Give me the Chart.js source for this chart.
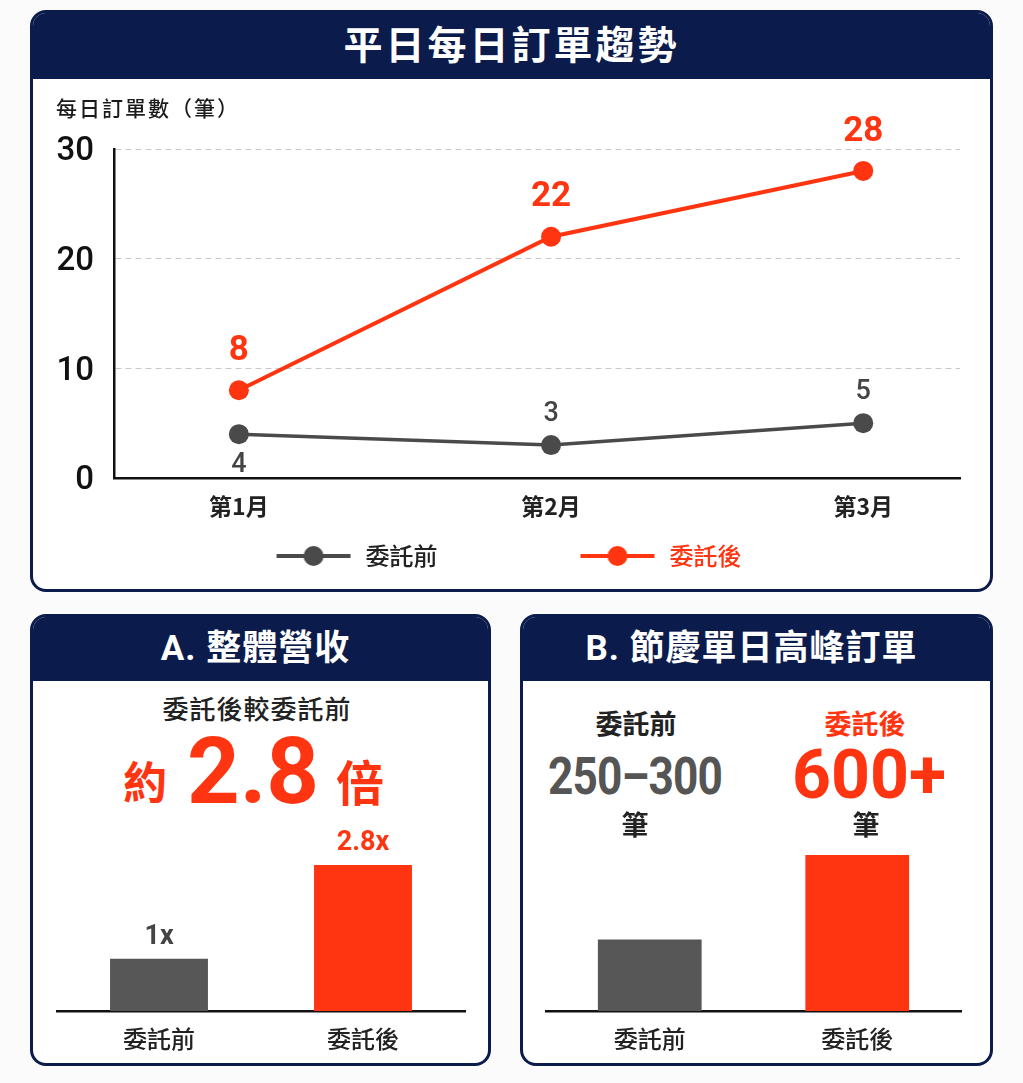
<!DOCTYPE html>
<html><head><meta charset="utf-8">
<script src="https://cdn.jsdelivr.net/npm/chart.js@4.4.1/dist/chart.umd.min.js"></script>
<style>
html,body{margin:0;padding:0;background:#fbfbfb;}
body{width:1023px;height:1083px;position:relative;overflow:hidden;font-family:Roboto,"Noto Sans CJK TC",sans-serif;}
.panel{position:absolute;box-sizing:border-box;border:3px solid #0b1b4b;border-radius:16px;background:#fff;overflow:hidden;}
.hdr{position:absolute;left:0;top:0;right:0;background:#0b1b4b;color:#fff;font-weight:700;text-align:center;font-family:Roboto,"Noto Sans CJK TC",sans-serif;}
.t{position:absolute;white-space:nowrap;transform:translate(-50%,-50%);line-height:1;z-index:2;}
canvas{position:absolute;z-index:1;}
</style></head>
<body>
<div class="panel" style="left:30px;top:10px;width:963px;height:582px;">
  <div class="hdr" style="height:66px;line-height:66px;font-size:39px;letter-spacing:3px;">平日每日訂單趨勢</div>
</div>
<div class="panel" style="left:30px;top:614px;width:461px;height:452px;">
  <div class="hdr" style="height:64px;line-height:64px;font-size:35px;letter-spacing:1px;padding-right:10px;">A. 整體營收</div>
</div>
<div class="panel" style="left:520px;top:614px;width:473px;height:452px;">
  <div class="hdr" style="height:64px;line-height:64px;font-size:35px;letter-spacing:1px;padding-right:10px;">B. 節慶單日高峰訂單</div>
</div>

<div style="position:absolute;left:56px;top:92px;font-size:21px;font-weight:500;letter-spacing:2px;color:#1a1a1a;z-index:2;font-family:'Noto Sans CJK TC',sans-serif;">每日訂單數（筆）</div>

<div class="t" style="left:257px;top:708px;font-size:26px;font-weight:500;letter-spacing:1px;color:#222;font-family:'Noto Sans CJK TC';">委託後較委託前</div>
<div class="t" style="left:145px;top:780px;font-size:44px;font-weight:700;color:#ff3410;font-family:'Noto Sans CJK TC';">約</div>
<div class="t" id="bigRatio" style="left:253px;top:772px;font-size:92px;font-weight:700;color:#ff3410;font-family:Roboto;"></div>
<div class="t" style="left:360px;top:780px;font-size:48px;font-weight:700;color:#ff3410;font-family:'Noto Sans CJK TC';">倍</div>

<div class="t" id="peakName0" style="left:636px;top:722px;font-size:27px;font-weight:700;color:#222;font-family:'Noto Sans CJK TC';"></div>
<div class="t" id="peakVal0" style="left:635px;top:777px;font-size:52px;font-weight:700;color:#555;letter-spacing:-1px;font-family:Roboto;transform:translate(-50%,-50%) scaleX(0.85);"></div>
<div class="t" style="left:635px;top:823px;font-size:27px;font-weight:700;color:#222;font-family:'Noto Sans CJK TC';">筆</div>
<div class="t" id="peakName1" style="left:865px;top:722px;font-size:27px;font-weight:700;color:#ff3410;font-family:'Noto Sans CJK TC';"></div>
<div class="t" id="peakVal1" style="left:869px;top:775px;font-size:68px;font-weight:700;color:#ff3410;font-family:Roboto;"></div>
<div class="t" style="left:866px;top:823px;font-size:27px;font-weight:700;color:#222;font-family:'Noto Sans CJK TC';">筆</div>

<canvas id="lineChart" style="left:33px;top:82px;width:957px;height:506px;" width="957" height="506"></canvas>
<canvas id="barA" style="left:33px;top:820px;width:455px;height:242px;" width="455" height="242"></canvas>
<canvas id="barB" style="left:523px;top:830px;width:467px;height:232px;" width="467" height="232"></canvas>

<script>
// ---- data ----
const months = ['第1月', '第2月', '第3月'];
const seriesNames = ['委託前', '委託後'];
const ordersBefore = [4, 3, 5];
const ordersAfter = [8, 22, 28];
const yAxisMin = 0, yAxisMax = 30, yAxisStep = 10;

const revenueCats = ['委託前', '委託後'];
const revenueValues = [1, 2.8];
const revenueLabels = ['1x', '2.8x'];
const revenueHeadline = '2.8';

const peakCats = ['委託前', '委託後'];
const peakValues = [275, 600];
const peakLabels = ['250–300', '600+'];

// ---- styles ----
const RED = '#ff3410';
const GRAY = '#4a4a4a';
const BAR_GRAY = '#575757';
const CJK = "Roboto, 'Noto Sans CJK TC', sans-serif";

document.getElementById('bigRatio').textContent = revenueHeadline;
document.getElementById('peakName0').textContent = peakCats[0];
document.getElementById('peakName1').textContent = peakCats[1];
document.getElementById('peakVal0').textContent = peakLabels[0];
document.getElementById('peakVal1').textContent = peakLabels[1];

Chart.defaults.animation = false;
Chart.defaults.font.family = CJK;

const valueLabels = {
  id: 'valueLabels',
  afterDatasetsDraw(chart) {
    const ctx = chart.ctx;
    chart.data.datasets.forEach((ds, i) => {
      const cfg = ds.valueLabel;
      if (!cfg) return;
      const meta = chart.getDatasetMeta(i);
      meta.data.forEach((el, j) => {
        const place = cfg.place ? cfg.place[j] : 'above';
        const y = place === 'below' ? el.y + cfg.offset : el.y - cfg.offset;
        ctx.save();
        ctx.font = cfg.font;
        ctx.fillStyle = Array.isArray(cfg.color) ? cfg.color[j] : cfg.color;
        ctx.textAlign = 'center';
        ctx.textBaseline = 'middle';
        ctx.fillText(cfg.text[j], el.x, y);
        ctx.restore();
      });
    });
  }
};

function legendIcon(color) {
  const c = document.createElement('canvas');
  c.width = 76; c.height = 24;
  const g = c.getContext('2d');
  g.strokeStyle = color; g.lineWidth = 4;
  g.beginPath(); g.moveTo(1, 12); g.lineTo(75, 12); g.stroke();
  g.fillStyle = color;
  g.beginPath(); g.arc(38, 12, 10, 0, Math.PI * 2); g.fill();
  return c;
}

new Chart(document.getElementById('lineChart'), {
  type: 'line',
  data: {
    datasets: [
      {
        label: seriesNames[0],
        data: ordersBefore.map((v, i) => ({ x: i + 1, y: v })),
        borderColor: GRAY, backgroundColor: GRAY,
        borderWidth: 3.5, pointRadius: 10, pointBorderWidth: 0,
        pointBackgroundColor: GRAY, legendText: '#222',
        valueLabel: { text: ordersBefore.map(String), font: "500 27px Roboto", color: '#444', offset: 31, place: ['below', 'above', 'above'] }
      },
      {
        label: seriesNames[1],
        data: ordersAfter.map((v, i) => ({ x: i + 1, y: v })),
        borderColor: RED, backgroundColor: RED,
        borderWidth: 4, pointRadius: 10, pointBorderWidth: 0,
        pointBackgroundColor: RED, legendText: RED,
        valueLabel: { text: ordersAfter.map(String), font: "700 35px Roboto", color: RED, offset: 39 }
      }
    ]
  },
  options: {
    responsive: false,
    layout: { padding: { left: 22, right: 30, top: 67, bottom: 10 } },
    plugins: {
      tooltip: { enabled: false },
      legend: {
        position: 'bottom',
        labels: {
          usePointStyle: true,
          pointStyleWidth: 80,
          padding: 20,
          font: { size: 24, weight: '500', family: "'Noto Sans CJK TC'" },
          generateLabels: chart => chart.data.datasets.map((ds, i) => ({
            text: ds.label + (i === 0 ? '\u3000'.repeat(5) : ''),
            fontColor: ds.legendText,
            pointStyle: legendIcon(ds.borderColor),
            datasetIndex: i, hidden: false, lineWidth: 0,
            strokeStyle: 'transparent', fillStyle: 'transparent'
          }))
        }
      }
    },
    scales: {
      x: {
        type: 'linear', min: 0.6, max: 3.31,
        afterBuildTicks: s => { s.ticks = months.map((m, i) => ({ value: i + 1 })); },
        afterFit: s => { s.height = 46; },
        grid: { display: false },
        border: { display: true, color: '#111', width: 2.5 },
        ticks: {
          padding: 6, color: '#222',
          font: { size: 23, weight: '600', family: "'Noto Sans CJK TC'" },
          callback: v => months[v - 1]
        }
      },
      y: {
        min: yAxisMin, max: yAxisMax,
        afterFit: s => { s.width = 59; },
        grid: {
          color: '#c8c8c8', lineWidth: 1, drawTicks: false
        },
        border: { display: true, color: '#111', width: 2.5, dash: [6, 4] },
        ticks: { stepSize: yAxisStep, padding: 20, labelOffset: 3, color: '#111', font: { size: 33, weight: '500', family: 'Roboto' } }
      }
    }
  },
  plugins: [valueLabels]
});

function barChart(id, cats, values, labels, yMax, pad, barPct) {
  return new Chart(document.getElementById(id), {
    type: 'bar',
    data: {
      labels: cats,
      datasets: [{
        data: values,
        backgroundColor: [BAR_GRAY, RED],
        borderWidth: 0,
        categoryPercentage: 1, barPercentage: barPct,
        valueLabel: labels ? { text: labels, font: "700 27px Roboto", color: ['#444', RED], offset: 22 } : null
      }]
    },
    options: {
      responsive: false,
      layout: { padding: pad },
      plugins: { legend: { display: false }, tooltip: { enabled: false } },
      scales: {
        x: {
          afterFit: s => { s.height = 51; },
          grid: { display: false },
          border: { display: true, color: '#111', width: 2.5 },
          ticks: { padding: 5, color: '#222', font: { size: 24, weight: '500', family: "'Noto Sans CJK TC'" } }
        },
        y: { display: false, min: 0, max: yMax }
      }
    },
    plugins: [valueLabels]
  });
}

barChart('barA', revenueCats, revenueValues, revenueLabels, 3.375, { left: 24, right: 23, top: 15, bottom: 0 }, 0.48);
barChart('barB', peakCats, peakValues, null, 600, { left: 23, right: 29, top: 25, bottom: 0 }, 0.5);
</script>
</body></html>
